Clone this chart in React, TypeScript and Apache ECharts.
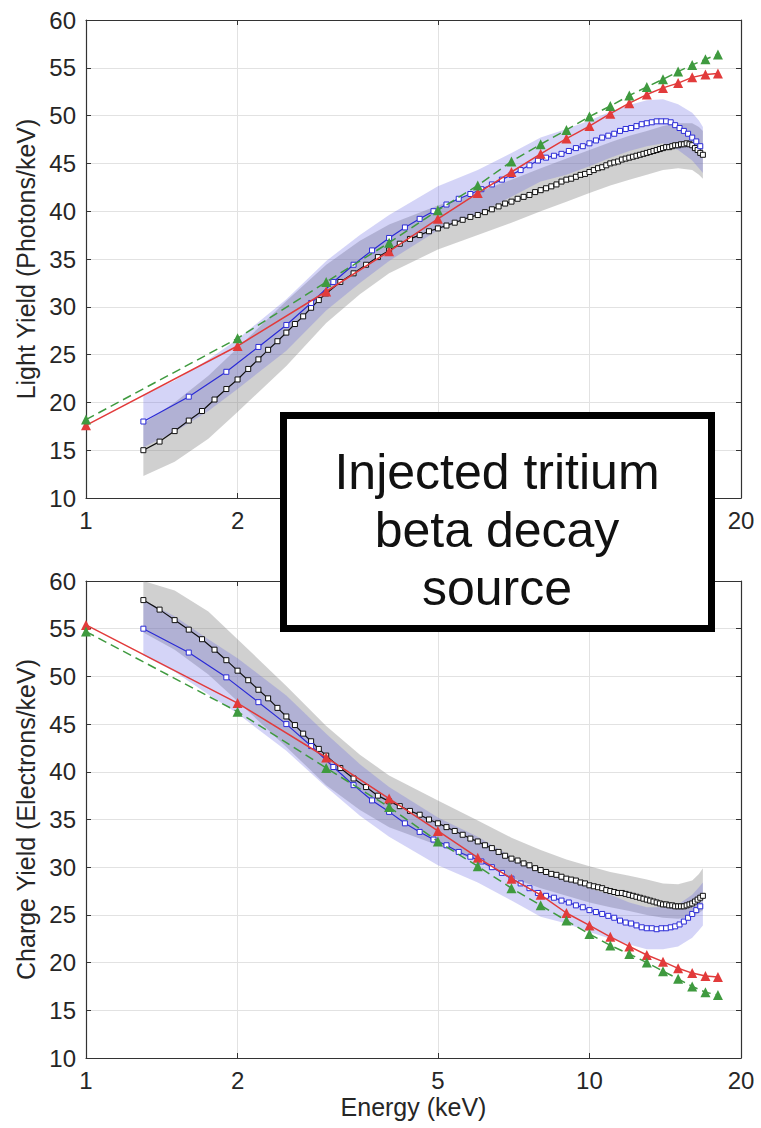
import React, { useEffect, useRef } from "react";
import * as echarts from "echarts";

// ---------- DATA ----------
const xTicks = [1, 2, 5, 10, 20];
// in the upper panel the 5 and 10 labels sit behind the annotation box
const xLabelsUpper = [1, 2, 20];

// red / green triangles (integer energies)
const triE = [1, 2, 3, 4, 5, 6, 7, 8, 9, 10, 11, 12, 13, 14, 15, 16, 17, 18];
const greenLight = [18.2, 26.7, 32.6, 36.7, 40.1, 42.7, 45.2, 47.0, 48.5, 49.9, 51.0, 52.1, 53.0, 53.8, 54.6, 55.3, 55.9, 56.4];
const redLight = [17.6, 25.9, 31.6, 35.8, 39.2, 41.9, 44.1, 46.0, 47.6, 48.9, 50.2, 51.3, 52.2, 52.9, 53.4, 54.0, 54.3, 54.4];
const redCharge = [55.4, 47.2, 41.5, 37.2, 33.8, 31.0, 28.8, 27.1, 25.2, 23.9, 22.7, 21.7, 20.8, 20.1, 19.4, 18.9, 18.6, 18.5];
const greenCharge = [54.7, 46.3, 40.4, 36.3, 32.7, 30.1, 27.8, 26.0, 24.4, 23.0, 21.8, 20.9, 20.0, 19.1, 18.3, 17.5, 16.9, 16.6];

// black open squares
const blackE = [1.3, 1.4, 1.5, 1.6, 1.7, 1.8, 1.9, 2.0, 2.1, 2.2, 2.3, 2.4, 2.5, 2.6, 2.7, 2.8, 2.9, 3.0,
  3.2, 3.4, 3.6, 3.8, 4.0, 4.2, 4.4, 4.6, 4.8, 5.0, 5.2, 5.4, 5.6, 5.8, 6.0, 6.2, 6.4, 6.6, 6.8, 7.0,
  7.2, 7.4, 7.6, 7.8, 8.0, 8.2, 8.4, 8.6, 8.8, 9.0, 9.2, 9.4, 9.6, 9.8, 10.0, 10.2, 10.4, 10.6, 10.8, 11.0,
  11.2, 11.4, 11.6, 11.8, 12.0, 12.2, 12.4, 12.6, 12.8, 13.0, 13.2, 13.4, 13.6, 13.8, 14.0, 14.2, 14.4, 14.6,
  14.8, 15.0, 15.2, 15.4, 15.6, 15.8, 16.0, 16.2, 16.4, 16.6, 16.8];
const blackLight = [15.0, 15.9, 17.0, 18.1, 19.1, 20.3, 21.4, 22.4, 23.5, 24.5, 25.5, 26.4, 27.3, 28.2, 29.0, 29.9, 30.7, 31.4,
  32.6, 33.5, 34.4, 35.2, 35.9, 36.6, 37.1, 37.5, 37.9, 38.2, 38.5, 38.8, 39.1, 39.4, 39.6, 39.9, 40.2, 40.5, 40.8, 41.0,
  41.3, 41.5, 41.7, 42.0, 42.2, 42.4, 42.6, 42.8, 43.1, 43.3, 43.4, 43.6, 43.8, 43.9, 44.1, 44.3, 44.5, 44.6, 44.8, 45.0,
  45.1, 45.2, 45.4, 45.5, 45.6, 45.7, 45.8, 45.9, 46.0, 46.1, 46.2, 46.3, 46.4, 46.5, 46.6, 46.7, 46.7, 46.8,
  46.9, 46.9, 47.0, 47.0, 47.1, 47.0, 46.9, 46.6, 46.4, 46.1, 45.9];
const blackCharge = [58.0, 57.0, 55.9, 54.9, 53.9, 52.8, 51.7, 50.6, 49.6, 48.6, 47.7, 46.7, 45.8, 44.9, 44.0, 43.2, 42.4, 41.7,
  40.4, 39.3, 38.4, 37.5, 36.9, 36.4, 35.9, 35.5, 35.0, 34.6, 34.2, 33.8, 33.4, 33.0, 32.7, 32.3, 32.0, 31.6, 31.2, 30.9,
  30.7, 30.4, 30.2, 29.9, 29.7, 29.5, 29.3, 29.2, 29.0, 28.8, 28.7, 28.6, 28.4, 28.3, 28.1, 28.0, 27.9, 27.8, 27.6, 27.5,
  27.4, 27.3, 27.3, 27.2, 27.1, 27.0, 26.9, 26.8, 26.7, 26.6, 26.5, 26.4, 26.3, 26.2, 26.1, 26.1, 26.0, 26.0,
  25.9, 25.9, 25.9, 25.9, 26.0, 26.1, 26.2, 26.4, 26.6, 26.8, 27.0];

// blue open squares
const blueE = [1.3, 1.6, 1.9, 2.2, 2.5, 2.8, 3.1, 3.4, 3.7, 4.0, 4.3, 4.6, 4.9, 5.2, 5.5, 5.8, 6.1, 6.4, 6.7, 7.0,
  7.3, 7.6, 7.9, 8.2, 8.5, 8.8, 9.1, 9.4, 9.7, 10.0, 10.3, 10.6, 10.9, 11.2, 11.5, 11.8, 12.1, 12.4, 12.7, 13.0,
  13.3, 13.6, 13.9, 14.2, 14.5, 14.8, 15.1, 15.4, 15.7, 16.0, 16.3, 16.6];
const blueLight = [18.0, 20.6, 23.2, 25.8, 28.1, 30.4, 32.6, 34.4, 35.9, 37.2, 38.3, 39.2, 40.0, 40.7, 41.3, 41.8, 42.3, 42.8, 43.3, 43.8,
  44.3, 44.8, 45.3, 45.6, 45.8, 46.0, 46.3, 46.6, 46.8, 47.1, 47.4, 47.7, 47.9, 48.1, 48.4, 48.6, 48.7, 48.9, 49.1, 49.2,
  49.3, 49.4, 49.4, 49.4, 49.3, 49.0, 48.7, 48.4, 48.1, 47.7, 47.3, 46.8];
const blueCharge = [55.0, 52.5, 49.9, 47.3, 45.0, 42.7, 40.5, 38.6, 37.0, 35.8, 34.6, 33.7, 32.9, 32.3, 31.6, 31.1, 30.6, 30.0, 29.4, 28.8,
  28.3, 27.8, 27.3, 27.0, 26.8, 26.5, 26.3, 26.0, 25.8, 25.5, 25.3, 25.1, 24.9, 24.7, 24.4, 24.2, 24.1, 23.9, 23.7, 23.6,
  23.6, 23.5, 23.6, 23.6, 23.7, 23.8, 24.0, 24.3, 24.7, 25.1, 25.5, 25.9];

// uncertainty bands
const bandE = [1.3, 1.5, 1.75, 2, 2.5, 3, 3.5, 4, 5, 6, 7, 8, 9, 10, 11, 12, 13, 14, 15, 16, 16.5, 16.8];
const grayLightHi = [17.8, 20.0, 22.8, 25.7, 30.6, 34.4, 36.9, 38.6, 40.6, 42.0, 43.3, 44.5, 45.5, 46.4, 47.2, 47.9, 48.4, 48.9, 49.2, 49.2, 48.8, 48.4];
const grayLightLo = [12.3, 13.8, 16.2, 19.0, 23.8, 28.3, 31.3, 33.5, 36.0, 37.5, 38.8, 40.0, 41.0, 41.9, 42.7, 43.3, 43.8, 44.3, 44.5, 44.3, 43.8, 43.4];
const blueLightHi = [20.8, 22.3, 24.5, 26.6, 30.8, 34.8, 37.5, 39.6, 42.6, 44.3, 46.1, 47.7, 48.6, 49.5, 50.4, 51.1, 51.6, 51.7, 51.2, 50.3, 49.5, 48.8];
const blueLightLo = [15.3, 16.9, 19.1, 21.4, 25.4, 29.6, 32.5, 34.8, 38.0, 39.7, 41.5, 43.1, 43.8, 44.7, 45.6, 46.3, 46.8, 47.1, 46.4, 45.3, 44.5, 44.0];
const grayChargeHi = [60.0, 59.0, 56.8, 53.9, 49.0, 44.8, 41.8, 39.6, 37.0, 34.9, 33.1, 31.8, 30.8, 30.1, 29.5, 29.1, 28.7, 28.3, 28.2, 28.6, 29.3, 29.9];
const grayChargeLo = [54.6, 52.8, 50.2, 47.4, 42.6, 38.6, 36.0, 34.2, 32.3, 30.6, 28.9, 27.8, 27.0, 26.3, 25.8, 25.4, 25.0, 24.7, 24.6, 24.8, 25.2, 25.5];
const blueChargeHi = [58.0, 56.3, 53.9, 51.9, 48.0, 44.0, 40.8, 38.4, 35.2, 33.2, 31.1, 29.4, 28.7, 27.8, 27.1, 26.3, 25.8, 25.8, 26.1, 27.1, 27.9, 28.4];
const blueChargeLo = [52.2, 50.5, 48.1, 46.1, 42.2, 38.4, 35.4, 33.2, 30.2, 28.4, 26.5, 24.8, 24.1, 23.2, 22.5, 21.9, 21.4, 21.4, 21.7, 22.6, 23.4, 23.9];

const boxText = "Injected tritium\nbeta decay\nsource";

// ---------- STYLE ----------
const FONT = "'Liberation Sans', Arial, sans-serif";
const GRAY_FILL = "rgba(125,125,125,0.36)";
const BLUE_FILL = "rgba(95,95,225,0.27)";

function pairs(E: number[], v: number[]) {
  return E.map((e, i) => [e, v[i]]);
}

function band(E: number[], hi: number[], lo: number[], fill: string, xi: number, yi: number, z: number) {
  return {
    type: "custom",
    xAxisIndex: xi,
    yAxisIndex: yi,
    silent: true,
    z,
    data: [[E[0], lo[0]]],
    renderItem: (_p: any, api: any) => {
      const pts: number[][] = [];
      for (let i = 0; i < E.length; i++) pts.push(api.coord([E[i], hi[i]]));
      for (let i = E.length - 1; i >= 0; i--) pts.push(api.coord([E[i], lo[i]]));
      return { type: "polygon", shape: { points: pts }, style: { fill: fill, stroke: "none" } };
    },
  };
}

function squares(E: number[], v: number[], color: string, xi: number, yi: number, z: number) {
  return {
    type: "line",
    xAxisIndex: xi,
    yAxisIndex: yi,
    z,
    data: pairs(E, v),
    symbol: "rect",
    symbolSize: 5,
    showAllSymbol: true,
    lineStyle: { color, width: 1.2 },
    itemStyle: { color: "#ffffff", borderColor: color, borderWidth: 1 },
  };
}

function triangles(E: number[], v: number[], color: string, dashed: boolean, xi: number, yi: number, z: number) {
  return {
    type: "line",
    xAxisIndex: xi,
    yAxisIndex: yi,
    z,
    data: pairs(E, v),
    symbol: "triangle",
    symbolSize: 10,
    showAllSymbol: true,
    lineStyle: { color, width: 1.5, type: dashed ? [9, 5] : "solid" },
    itemStyle: { color },
  };
}

function xAx(grid: number, pos: "bottom" | "top", labels: number[] | null, name?: string) {
  return {
    type: "log",
    logBase: 10,
    gridIndex: grid,
    position: pos,
    min: 1,
    max: 20,
    name: name || "",
    nameLocation: "middle",
    nameGap: 36,
    nameTextStyle: { fontFamily: FONT, fontSize: 25, color: "#262626" },
    axisLine: { show: true, onZero: false, lineStyle: { color: "#333", width: 1.2 } },
    axisTick: { show: true, inside: true, length: 5, customValues: xTicks, lineStyle: { color: "#333" } },
    minorTick: { show: false },
    axisLabel: {
      show: !!labels,
      customValues: labels || xTicks,
      fontFamily: FONT,
      fontSize: 24,
      color: "#262626",
      margin: 10,
      formatter: (v: number) => String(Math.round(v)),
    },
    splitLine: { show: pos === "bottom", lineStyle: { color: "#e2e2e2", width: 1 } },
  };
}

function yAx(grid: number, pos: "left" | "right", withLabels: boolean, name?: string) {
  return {
    type: "value",
    gridIndex: grid,
    position: pos,
    min: 10,
    max: 60,
    interval: 5,
    name: name || "",
    nameLocation: "middle",
    nameGap: 46,
    nameTextStyle: { fontFamily: FONT, fontSize: 25, color: "#262626" },
    axisLine: { show: true, onZero: false, lineStyle: { color: "#333", width: 1.2 } },
    axisTick: { show: true, inside: true, length: 5, lineStyle: { color: "#333" } },
    axisLabel: { show: withLabels, fontFamily: FONT, fontSize: 24, color: "#262626", margin: 10 },
    splitLine: { show: pos === "left", lineStyle: { color: "#e2e2e2", width: 1 } },
  };
}

export default function App() {
  const ref = useRef<HTMLDivElement>(null);

  useEffect(() => {
    if (!ref.current) return;
    const chart = echarts.init(ref.current, undefined, { renderer: "svg" });

    const RED = "#e23b3b";
    const GREEN = "#3f9a3f";
    const BLUE = "#2b2bd6";
    const BLACK = "#111111";

    chart.setOption({
      animation: false,
      backgroundColor: "#ffffff",
      grid: [
        { left: 86, top: 20, width: 655, height: 478 },
        { left: 86, top: 581, width: 655, height: 477 },
      ],
      xAxis: [
        xAx(0, "bottom", xLabelsUpper),
        xAx(0, "top", null),
        xAx(1, "bottom", xTicks, "Energy (keV)"),
        xAx(1, "top", null),
      ],
      yAxis: [
        yAx(0, "left", true, "Light Yield (Photons/keV)"),
        yAx(0, "right", false),
        yAx(1, "left", true, "Charge Yield (Electrons/keV)"),
        yAx(1, "right", false),
      ],
      series: [
        band(bandE, grayLightHi, grayLightLo, GRAY_FILL, 0, 0, 1),
        band(bandE, blueLightHi, blueLightLo, BLUE_FILL, 0, 0, 2),
        squares(blackE, blackLight, BLACK, 0, 0, 3),
        squares(blueE, blueLight, BLUE, 0, 0, 4),
        triangles(triE, redLight, RED, false, 0, 0, 5),
        triangles(triE, greenLight, GREEN, true, 0, 0, 6),

        band(bandE, grayChargeHi, grayChargeLo, GRAY_FILL, 2, 2, 1),
        band(bandE, blueChargeHi, blueChargeLo, BLUE_FILL, 2, 2, 2),
        squares(blackE, blackCharge, BLACK, 2, 2, 3),
        squares(blueE, blueCharge, BLUE, 2, 2, 4),
        triangles(triE, redCharge, RED, false, 2, 2, 5),
        triangles(triE, greenCharge, GREEN, true, 2, 2, 6),
      ],
      graphic: [
        {
          type: "rect",
          z: 100,
          shape: { x: 283.5, y: 415.5, width: 428, height: 213 },
          style: { fill: "#ffffff", stroke: "#000000", lineWidth: 7 },
        },
        {
          type: "text",
          z: 101,
          x: 497,
          y: 530,
          style: {
            text: boxText,
            fontFamily: FONT,
            fontSize: 50,
            lineHeight: 58,
            fill: "#111111",
            align: "center",
            verticalAlign: "middle",
          },
        },
      ],
    });

    return () => chart.dispose();
  }, []);

  return (
    <div
      ref={ref}
      style={{ position: "absolute", left: 0, top: 0, width: 761, height: 1128, background: "#fff" }}
    />
  );
}
